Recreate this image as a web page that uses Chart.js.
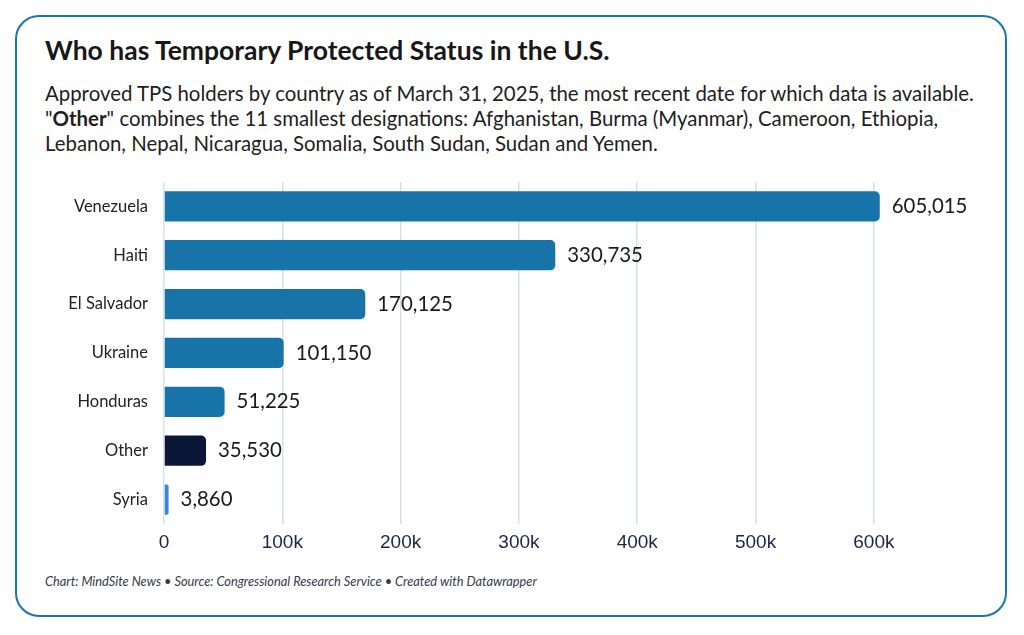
<!DOCTYPE html>
<html>
<head>
<meta charset="utf-8">
<script src="https://cdn.jsdelivr.net/npm/chart.js@4"></script>
<style>
  body { margin: 0; background: #fff; width: 1024px; height: 635px; overflow: hidden; font-family: Lato, sans-serif; }
  #frame { position: absolute; left: 15px; top: 15px; width: 988px; height: 598px; border: 2.5px solid #1b75ad; border-radius: 24px; }
  #title { position: absolute; left: 45px; top: 34px; font-size: 26.5px; font-weight: bold; color: #181818; }
  #sub { position: absolute; left: 45px; top: 81px; font-size: 20.4px; line-height: 25px; color: #1e1e1e; width: 970px; white-space: nowrap; }
  #foot { position: absolute; left: 45px; top: 573px; font-size: 12.8px; font-style: italic; color: #333a4a; }
  #wrap { position: absolute; left: 0; top: 156px; width: 1024px; height: 406px; }
</style>
</head>
<body>
<div id="frame"></div>
<div id="title">Who has Temporary Protected Status in the U.S.</div>
<div id="sub">Approved TPS holders by country as of March 31, 2025, the most recent date for which data is available.<br>"<b>Other</b>" combines the 11 smallest designations: Afghanistan, Burma (Myanmar), Cameroon, Ethiopia,<br>Lebanon, Nepal, Nicaragua, Somalia, South Sudan, Sudan and Yemen.</div>
<div id="foot">Chart: MindSite News • Source: Congressional Research Service • Created with Datawrapper</div>
<div id="wrap"><canvas id="myChart"></canvas></div>
<script>
const countries = ["Venezuela", "Haiti", "El Salvador", "Ukraine", "Honduras", "Other", "Syria"];
const holders = [605015, 330735, 170125, 101150, 51225, 35530, 3860];
const barColors = ["#1874a8", "#1874a8", "#1874a8", "#1874a8", "#1874a8", "#0b1738", "#3786df"];
const tickValues = [0, 100000, 200000, 300000, 400000, 500000, 600000];
const tickLabels = ["0", "100k", "200k", "300k", "400k", "500k", "600k"];

const valueLabels = {
  id: "valueLabels",
  afterDatasetsDraw(chart) {
    const c = chart.ctx;
    const meta = chart.getDatasetMeta(0);
    c.save();
    c.font = "20.4px Lato";
    c.fillStyle = "#1a1a1a";
    c.textBaseline = "middle";
    meta.data.forEach(function (bar, i) {
      c.fillText(holders[i].toLocaleString("en-US"), bar.x + 12, bar.y);
    });
    c.restore();
  }
};

const ctx = document.getElementById("myChart");
new Chart(ctx, {
  type: "bar",
  data: {
    labels: countries,
    datasets: [
      {
        data: holders,
        backgroundColor: barColors,
        borderRadius: { topLeft: 0, bottomLeft: 0, topRight: 5, bottomRight: 5 },
        borderSkipped: false,
        barPercentage: 0.62,
        categoryPercentage: 1,
      },
    ],
  },
  options: {
    indexAxis: "y",
    responsive: true,
    maintainAspectRatio: false,
    animation: false,
    layout: { padding: { top: 11, right: 91, bottom: 0, left: 0 } },
    plugins: { legend: { display: false }, tooltip: { enabled: false } },
    scales: {
      x: {
        min: 0,
        max: 650000,
        afterBuildTicks: function (scale) {
          scale.ticks = tickValues.map(v => ({ value: v }));
        },
        afterFit: function (scale) { scale.height = 38; },
        grid: { color: "#d5dff0", lineWidth: 1.5, drawTicks: false },
        border: { display: false },
        ticks: {
          padding: 7,
          color: "#1b2548",
          font: { family: "Liberation Sans", size: 19 },
          callback: function (v) { return tickLabels[tickValues.indexOf(v)]; },
        },
      },
      y: {
        afterFit: function (scale) { scale.width = 164; },
        grid: { display: false, drawTicks: false },
        border: { display: false },
        ticks: {
          padding: 16,
          color: "#222",
          font: { family: "Lato", size: 16.5 },
        },
      },
    },
  },
  plugins: [valueLabels],
});
</script>
</body>
</html>
